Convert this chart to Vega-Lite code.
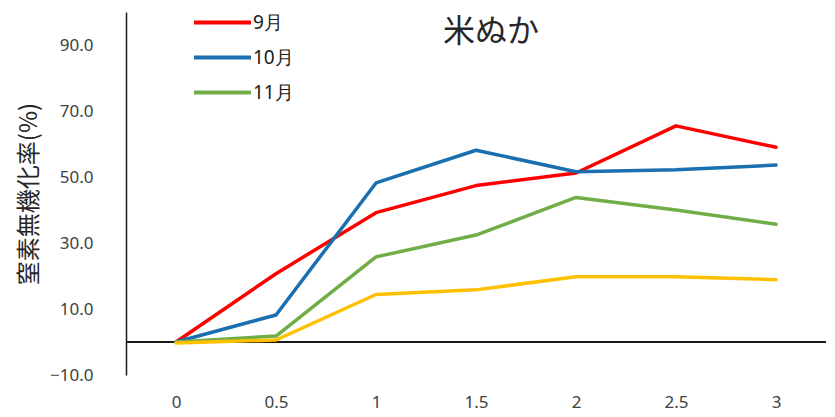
{
  "$schema": "https://vega.github.io/schema/vega-lite/v6.json",
  "autosize": {"type": "none"},
  "padding": {"left": 126, "top": 12, "right": 9, "bottom": 42},
  "width": 700,
  "height": 363,
  "background": "white",
  "config": {
    "view": {"stroke": null},
    "font": "Noto Sans CJK JP"
  },
  "title": {
    "text": "米ぬか",
    "anchor": "start",
    "frame": "group",
    "orient": "top",
    "dx": 317,
    "dy": 69,
    "offset": 0,
    "fontSize": 32,
    "fontWeight": "normal",
    "color": "#262626",
    "font": "Noto Sans CJK JP",
    "baseline": "alphabetic"
  },
  "data": {
    "values": [
      {"t": "0", "s": "9月", "v": 0},
      {"t": "0.5", "s": "9月", "v": 20.7},
      {"t": "1", "s": "9月", "v": 39.2},
      {"t": "1.5", "s": "9月", "v": 47.4},
      {"t": "2", "s": "9月", "v": 51.2},
      {"t": "2.5", "s": "9月", "v": 65.5},
      {"t": "3", "s": "9月", "v": 59.0},
      {"t": "0", "s": "10月", "v": 0},
      {"t": "0.5", "s": "10月", "v": 8.2},
      {"t": "1", "s": "10月", "v": 48.2},
      {"t": "1.5", "s": "10月", "v": 58.1},
      {"t": "2", "s": "10月", "v": 51.6},
      {"t": "2.5", "s": "10月", "v": 52.2},
      {"t": "3", "s": "10月", "v": 53.6},
      {"t": "0", "s": "11月", "v": 0},
      {"t": "0.5", "s": "11月", "v": 1.8},
      {"t": "1", "s": "11月", "v": 25.8},
      {"t": "1.5", "s": "11月", "v": 32.4},
      {"t": "2", "s": "11月", "v": 43.8},
      {"t": "2.5", "s": "11月", "v": 40.0},
      {"t": "3", "s": "11月", "v": 35.7},
      {"t": "0", "s": "12月", "v": -0.3},
      {"t": "0.5", "s": "12月", "v": 0.6},
      {"t": "1", "s": "12月", "v": 14.4},
      {"t": "1.5", "s": "12月", "v": 15.8},
      {"t": "2", "s": "12月", "v": 19.8},
      {"t": "2.5", "s": "12月", "v": 19.8},
      {"t": "3", "s": "12月", "v": 18.9}
    ]
  },
  "layer": [
    {
      "mark": {"type": "rule", "color": "#1a1a1a", "strokeWidth": 1.5},
      "encoding": {"y": {"datum": 0, "type": "quantitative"}}
    },
    {
      "mark": {"type": "line", "strokeWidth": 3.5, "strokeJoin": "round", "strokeCap": "round"},
      "encoding": {
        "x": {
          "field": "t",
          "type": "ordinal",
          "sort": ["0", "0.5", "1", "1.5", "2", "2.5", "3"],
          "scale": {"type": "point", "padding": 0.5},
          "axis": {
            "title": null,
            "domain": false,
            "ticks": false,
            "labelAngle": 0,
            "labelPadding": 19,
            "labelFontSize": 17,
            "labelColor": "#404040",
            "labelFont": "Noto Sans"
          }
        },
        "y": {
          "field": "v",
          "type": "quantitative",
          "scale": {"domain": [-10, 100], "nice": false, "zero": false},
          "axis": {
            "title": "窒素無機化率(%)",
            "titleFontSize": 24,
            "titleFontWeight": "normal",
            "titleColor": "#262626",
            "titlePadding": 8,
            "values": [-10, 10, 30, 50, 70, 90],
            "format": ".1f",
            "grid": false,
            "ticks": false,
            "domainColor": "#1a1a1a",
            "domainWidth": 1.5,
            "labelPadding": 33,
            "labelFontSize": 17,
            "labelColor": "#404040",
            "labelFont": "Noto Sans"
          }
        },
        "color": {
          "field": "s",
          "type": "nominal",
          "sort": ["9月", "10月", "11月", "12月"],
          "scale": {
            "domain": ["9月", "10月", "11月", "12月"],
            "range": ["#FF0000", "#1A6FB0", "#70AD47", "#FFC000"]
          },
          "legend": {
            "values": ["9月", "10月", "11月"],
            "title": null,
            "orient": "none",
            "legendX": 66,
            "legendY": -7,
            "symbolType": "stroke",
            "symbolSize": 3249,
            "symbolStrokeWidth": 4,
            "labelFontSize": 19,
            "labelColor": "#1a1a1a",
            "labelFont": "Noto Sans",
            "labelOffset": 0,
            "clipHeight": 35,
            "rowPadding": 0
          }
        }
      }
    }
  ]
}
